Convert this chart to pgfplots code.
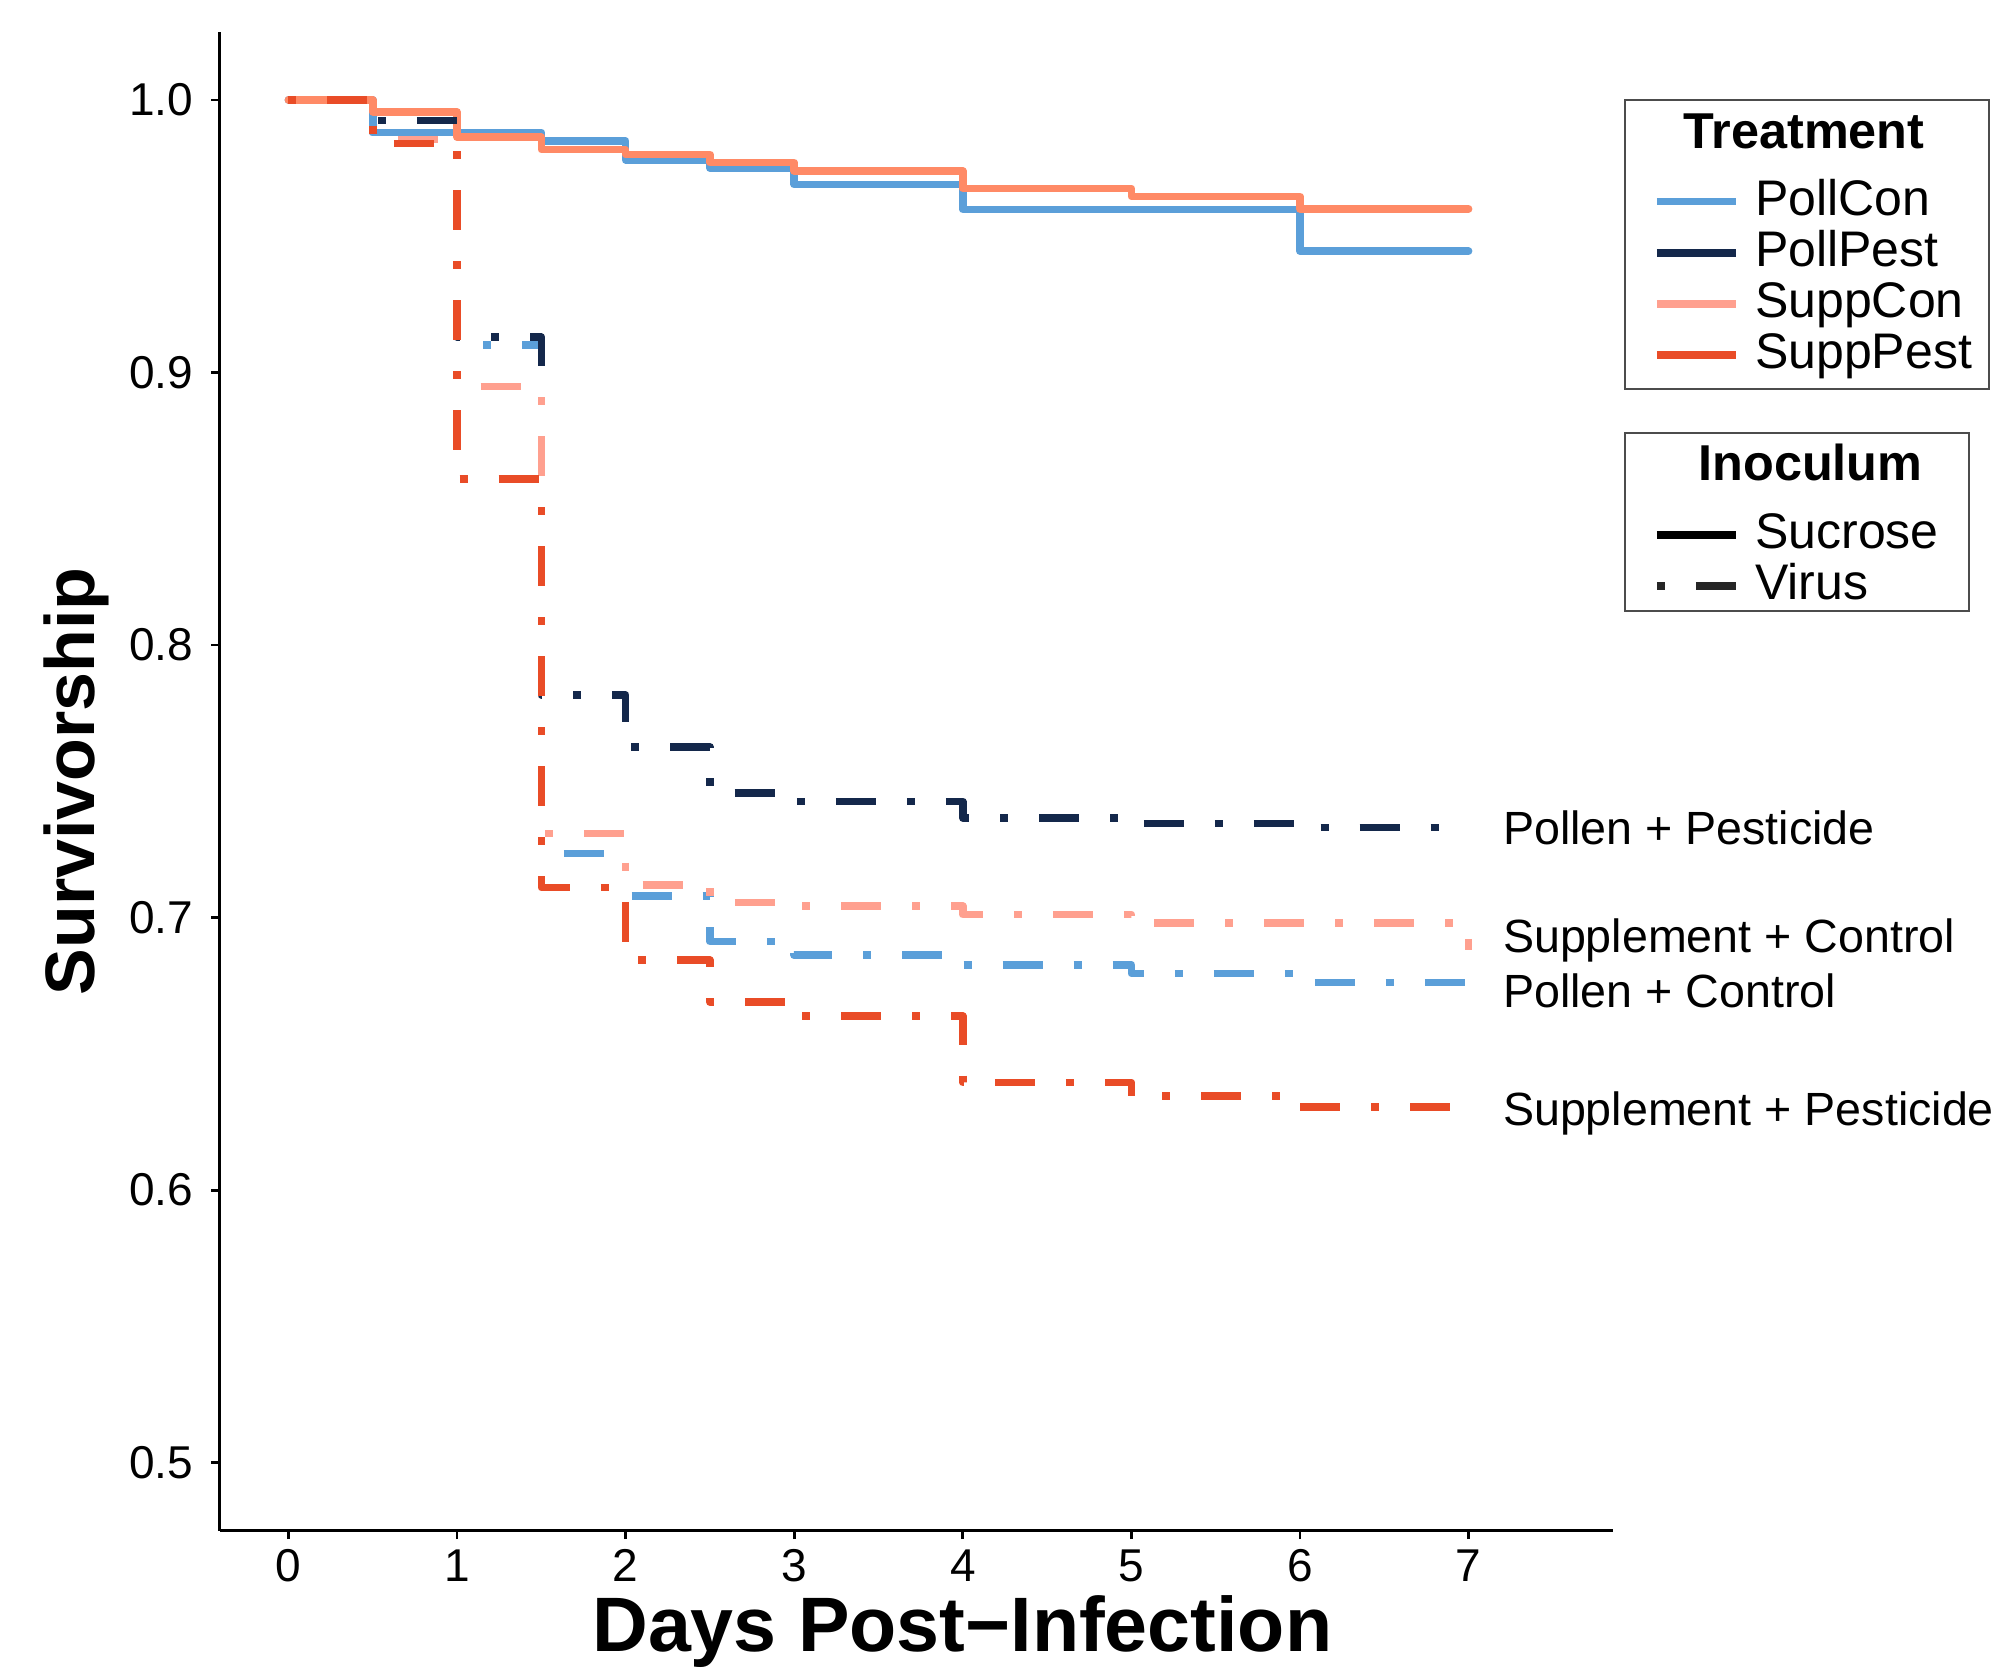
\documentclass[border=0pt]{standalone}
\usepackage{fontspec}
\setmainfont{Liberation Sans}
\usepackage{pgfplots}
\pgfplotsset{compat=1.18}

\definecolor{pollcon}{RGB}{91,159,217}
\definecolor{pollpest}{RGB}{20,40,75}
\definecolor{suppcon}{RGB}{255,160,143}
\definecolor{supppest}{RGB}{233,76,39}
\definecolor{suppsuc}{RGB}{255,138,102}

\tikzset{
  sucrose/.style={line width=1.9pt, line join=round, line cap=round},
  virus/.style={line width=1.9pt, line join=round, line cap=butt,
    dash pattern=on 2pt off 7.75pt on 10pt off 7.75pt},
}

\begin{document}
\begin{tikzpicture}
\begin{axis}[
  at={(54.95pt,34.3pt)}, anchor=south west,
  scale only axis, width=348.4pt, height=374.75pt,
  xmin=-0.407, xmax=7.859, ymin=0.475, ymax=1.025,
  axis x line=bottom, axis y line=left,
  axis line style={-, line width=0.7pt, black},
  xtick={0,1,2,3,4,5,6,7},
  ytick={0.5,0.6,0.7,0.8,0.9,1.0},
  yticklabels={0.5,0.6,0.7,0.8,0.9,1.0},
  tick align=outside, major tick length=2.1pt,
  tick style={black, line width=0.7pt},
  /pgf/number format/assume math mode=true,
  ticklabel style={font=\fontsize{11.5}{13}\selectfont},
  xticklabel style={yshift=0.9pt},
  yticklabel style={xshift=-1pt},
  xlabel={Days Post\textminus Infection},
  ylabel={Survivorship},
  xlabel style={at={(axis description cs:0.5328,0)}, anchor=base,
    yshift=-30.2pt, font=\fontsize{19.3}{21}\selectfont\bfseries},
  ylabel style={at={(axis description cs:-0.0896,0.5)}, anchor=base,
    rotate=0, font=\fontsize{17.5}{20}\selectfont\bfseries},
  clip=false,
  no marks,
]
% Sucrose (solid)
\addplot[const plot, sucrose, pollcon] coordinates {
  (0,1.0) (0.5,0.988) (1.5,0.985) (2.0,0.978) (2.5,0.975) (3.0,0.969)
  (4.0,0.9598) (6.0,0.9445) (7.0,0.9445)
};
\addplot[const plot, sucrose, suppsuc] coordinates {
  (0,1.0) (0.5,0.9956) (1.0,0.9863) (1.5,0.9818) (2.0,0.980) (2.5,0.977)
  (3.0,0.9739) (4.0,0.9675) (5.0,0.9646) (6.0,0.960) (7.0,0.960)
};
% Virus (dot-dash)
\addplot[const plot, virus, pollcon] coordinates {
  (0,1.0) (0.5,0.988) (1.0,0.910) (1.5,0.7235) (2.0,0.708) (2.5,0.6912)
  (3.0,0.6862) (4.0,0.6827) (5.0,0.6795) (6.0,0.6762) (7.0,0.6762)
};
\addplot[const plot, virus, pollpest] coordinates {
  (0,1.0) (0.5,0.9925) (1.0,0.913) (1.5,0.7817) (2.0,0.7626) (2.5,0.7458)
  (3.0,0.7426) (4.0,0.7365) (5.0,0.7345) (6.0,0.733) (7.0,0.733)
};
\addplot[const plot, virus, suppcon] coordinates {
  (0,1.0) (0.5,0.9855) (1.0,0.8948) (1.5,0.7309) (2.0,0.712) (2.5,0.7055)
  (3.0,0.7042) (4.0,0.7011) (5.0,0.698) (7.0,0.688)
};
\addplot[const plot, virus, supppest] coordinates {
  (0,1.0) (0.5,0.984) (1.0,0.861) (1.5,0.711) (2.0,0.6844) (2.5,0.669)
  (3.0,0.6638) (4.0,0.6395) (5.0,0.6345) (6.0,0.6305) (7.0,0.6305)
};
% end labels
\begin{scope}[every node/.style={anchor=base west, inner sep=0pt,
    font=\fontsize{11.65}{14}\selectfont}]
\node at (axis cs:7.2,0.7267) {Pollen + Pesticide};
\node at (axis cs:7.2,0.6872) {Supplement + Control};
\node at (axis cs:7.2,0.6671) {Pollen + Control};
\node at (axis cs:7.2,0.6238) {Supplement + Pesticide};
\end{scope}
\end{axis}

% legends
\begin{scope}[font=\fontsize{12.5}{14}\selectfont]
\draw[black!70, line width=0.5pt] (406.25pt,319.8pt) rectangle (497.3pt,391.9pt);
\node[anchor=base, inner sep=0pt, font=\fontsize{12.6}{14}\selectfont\bfseries]
  at (451pt,379.8pt) {Treatment};
\foreach \c/\t [count=\i from 0] in {pollcon/PollCon, pollpest/PollPest,
    suppcon/SuppCon, supppest/SuppPest} {
  \draw[\c, line width=1.9pt] (414.2pt,{366.6pt-\i*12.8pt}) -- (433.9pt,{366.6pt-\i*12.8pt});
  \node[anchor=base west, inner sep=0pt] at (438.6pt,{363.2pt-\i*12.8pt}) {\t};
}
\draw[black!70, line width=0.5pt] (406.25pt,264.25pt) rectangle (492.25pt,308.75pt);
\node[anchor=base, inner sep=0pt, font=\fontsize{12.6}{14}\selectfont\bfseries]
  at (452.6pt,296.9pt) {Inoculum};
\draw[black, line width=1.9pt] (414.2pt,283.2pt) -- (433.9pt,283.2pt);
\node[anchor=base west, inner sep=0pt] at (438.6pt,279.8pt) {Sucrose};
\draw[black!85, line width=1.9pt, dash pattern=on 2pt off 7.75pt on 10pt off 7.75pt]
  (414.2pt,270.5pt) -- (433.9pt,270.5pt);
\node[anchor=base west, inner sep=0pt] at (438.6pt,267.1pt) {Virus};
\end{scope}

\pgfresetboundingbox
\path[use as bounding box] (0,0) rectangle (498pt,417pt);
\end{tikzpicture}
\end{document}
